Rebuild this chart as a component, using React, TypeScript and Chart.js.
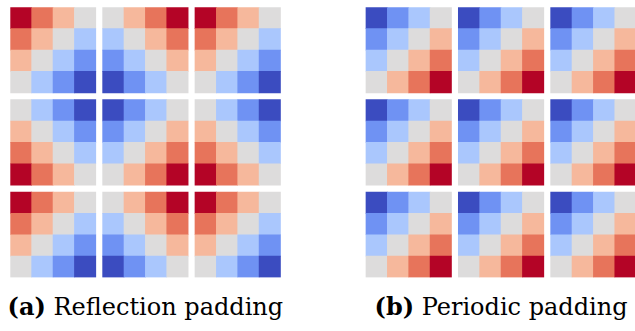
import React, { useEffect, useRef } from "react";
import { Chart, registerables } from "chart.js";

Chart.register(...registerables);

// 4x4 block patterns (cell values, row by row from the top)
const blockA = [
  [3, 2, 1, 0],
  [2, 1, 0, -1],
  [1, 0, -1, -2],
  [0, -1, -2, -3],
];
const blockH = [
  [0, 1, 2, 3],
  [-1, 0, 1, 2],
  [-2, -1, 0, 1],
  [-3, -2, -1, 0],
];
const blockV = [
  [0, -1, -2, -3],
  [1, 0, -1, -2],
  [2, 1, 0, -1],
  [3, 2, 1, 0],
];
const blockHV = [
  [-3, -2, -1, 0],
  [-2, -1, 0, 1],
  [-1, 0, 1, 2],
  [0, 1, 2, 3],
];

// Which block sits in each slot of the 3x3 grids
const reflectionLayout = [
  [blockA, blockH, blockA],
  [blockV, blockHV, blockV],
  [blockA, blockH, blockA],
];
const periodicLayout = [
  [blockHV, blockHV, blockHV],
  [blockHV, blockHV, blockHV],
  [blockHV, blockHV, blockHV],
];

const panelLayouts = [reflectionLayout, periodicLayout];
const panelLabels = ["(a)", "(b)"];
const panelCaptions = ["Reflection padding", "Periodic padding"];

// coolwarm colours for levels -3..3
const levelValues = [-3, -2, -1, 0, 1, 2, 3];
const levelColors = ["#3b4cc0", "#6f92f3", "#aac7fd", "#dddcdc", "#f6b89c", "#e7745b", "#b40426"];

// geometry in cell units
const GAP = 0.32;
const PANEL_SPACING = 4;
const BLOCK_PITCH = 4 + GAP;
const PANEL_WIDTH = 3 * 4 + 2 * GAP;

function buildCells() {
  const cells: { x: number; y: [number, number]; v: number }[] = [];
  panelLayouts.forEach((layout, p) => {
    const xOff = p * (PANEL_WIDTH + PANEL_SPACING);
    layout.forEach((rowBlocks, br) => {
      rowBlocks.forEach((block, bc) => {
        block.forEach((row, r) => {
          row.forEach((v, c) => {
            const y0 = br * BLOCK_PITCH + r;
            cells.push({ x: xOff + bc * BLOCK_PITCH + c + 0.5, y: [y0, y0 + 1], v });
          });
        });
      });
    });
  });
  return cells;
}

const colorFor = (v: number) => levelColors[levelValues.indexOf(v)];

const CELL_PX = 21.375;
const CANVAS_W = 640;
const CANVAS_H = 290;
const LEFT = 10.3;
const TOP = 7.3;

export default function App() {
  const ref = useRef<HTMLCanvasElement | null>(null);
  useEffect(() => {
    if (!ref.current) return;
    const xMax = 2 * PANEL_WIDTH + PANEL_SPACING;
    const yMax = PANEL_WIDTH;
    const chart = new Chart(ref.current, {
      type: "bar",
      data: {
        datasets: [
          {
            data: buildCells() as any,
            backgroundColor: (ctx: any) => colorFor(ctx.raw ? ctx.raw.v : 0),
            borderWidth: 0,
            barPercentage: 1,
            categoryPercentage: 1,
          },
        ],
      },
      options: {
        animation: false,
        responsive: false,
        devicePixelRatio: 1,
        events: [],
        layout: {
          padding: {
            left: LEFT,
            top: TOP,
            right: CANVAS_W - LEFT - xMax * CELL_PX,
            bottom: CANVAS_H - TOP - yMax * CELL_PX,
          },
        },
        plugins: { legend: { display: false }, tooltip: { enabled: false } },
        scales: {
          x: {
            type: "linear",
            min: 0,
            max: xMax,
            offset: false,
            display: false,
            ticks: { stepSize: 100 },
            grid: { offset: false },
          },
          y: {
            type: "linear",
            min: 0,
            max: yMax,
            reverse: true,
            display: false,
            ticks: { stepSize: 100 },
          },
        },
      },
    });
    return () => chart.destroy();
  }, []);

  const panelCenters = [LEFT + (PANEL_WIDTH * CELL_PX) / 2, LEFT + (PANEL_WIDTH + PANEL_SPACING + PANEL_WIDTH / 2) * CELL_PX];

  return (
    <div
      style={{
        position: "fixed",
        left: 0,
        top: 0,
        width: 635,
        height: 331,
        overflow: "hidden",
        background: "#ffffff",
      }}
    >
      <canvas ref={ref} width={CANVAS_W} height={CANVAS_H} style={{ position: "absolute", left: 0, top: 0, width: CANVAS_W, height: CANVAS_H }} />
      {panelCaptions.map((cap, i) => (
        <div
          key={i}
          style={{
            position: "absolute",
            left: panelCenters[i] - 200,
            width: 400,
            top: 292,
            textAlign: "center",
            fontFamily: "'DejaVu Serif', serif",
            fontSize: 24,
            color: "#000000",
            whiteSpace: "nowrap",
          }}
        >
          <b>{panelLabels[i]}</b> {cap}
        </div>
      ))}
    </div>
  );
}
